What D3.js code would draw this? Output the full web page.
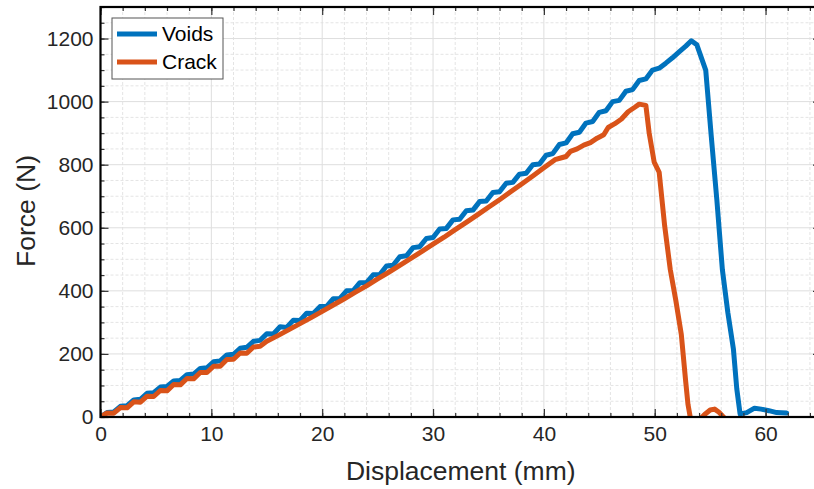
<!DOCTYPE html>
<meta charset="utf-8">
<style>
body { margin: 0; background: #fff; }
svg { font-family: "Liberation Sans", Arial, sans-serif; }
.tick text { fill: #262626; font-size: 21px; }
.grid-major line { stroke: #dedede; stroke-width: 1; }
.grid-minor line { stroke: #e4e4e4; stroke-width: 1; stroke-dasharray: 3,2; }
.series { fill: none; stroke-width: 5; stroke-linejoin: round; stroke-linecap: round; }
</style>
<body>
<div id="chart"></div>
<script src="https://cdn.jsdelivr.net/npm/d3@7"></script>
<script>

var voidsX = [0,0.6,1.2,1.8,2.4,3,3.6,4.2,4.8,5.4,6,6.6,7.2,7.8,8.4,9,9.6,10.2,10.8,11.4,12,12.6,13.2,13.8,14.4,
  15,15.6,16.2,16.8,17.4,18,18.6,19.2,19.8,20.4,21,21.6,22.2,22.8,23.4,24,24.6,25.2,25.8,26.4,27,27.6,28.2,28.8,29.4,
  30,30.6,31.2,31.8,32.4,33,33.6,34.2,34.8,35.4,36,36.6,37.2,37.8,38.4,39,39.6,40.2,40.8,41.4,42,42.6,43.2,43.8,44.4,
  45,45.6,46.2,46.8,47.4,48,48.6,49.2,49.8,
  50.4,51,51.6,52.2,52.8,53.3,53.8,54.6,55.1,55.6,56.1,56.6,57.1,57.4,57.7,58.3,59,59.6,60.3,61,61.9];
var voidsY = [0,14,16,34,36,54,56,75,77,95,97,114,116,134,136,154,156,175,178,197,199,218,221,240,243,
  264,263,286,284,307,306,329,328,350,351,375,376,400,401,426,426,451,452,479,481,508,511,537,540,566,
  569,596,598,625,627,654,656,683,685,712,714,741,744,770,773,800,802,830,835,864,869,898,903,932,937,
  966,971,1000,1004,1033,1038,1067,1072,1100,
  1106,1122,1139,1158,1176,1193,1180,1100,890,690,468,330,215,90,10,14,28,25,20,14,13];

var crackX = [0,0.6,1.2,1.8,2.4,3,3.6,4.2,4.8,5.4,6,6.6,7.2,7.8,8.4,9,9.6,10.2,10.8,11.4,12,12.6,13.2,13.8,14.4,15,
  16,17,18,19,20,21,22,23,24,25,26,27,28,29,30,31,32,33,34,35,36,37,38,39,40,41,
  41.6,42,42.4,43,43.6,44.2,44.8,45.4,45.8,46.4,47,47.6,48.2,48.6,49.2,49.5,49.95,50.4,50.9,51.4,
  51.9,52.4,52.8,53,53.2,53.6,54,54.5,55,55.4,55.8,56.2,56.6];
var crackY = [0,13,12,30,29,48,47,66,65,84,83,103,102,122,121,141,141,161,161,182,183,203,202,222,224,240,
  258,277,296,315,335,355,375,396,416,438,459,481,503,525,548,570,594,617,641,665,689,714,739,764,790,816,
  822,826,842,850,862,870,884,895,918,930,945,968,982,992,988,900,808,776,605,468,
  370,261,110,40,0,-15,-10,8,22,25,15,0,-15];

var seriesNames = ["Voids", "Crack"];
var seriesColors = ["#0072BD", "#D95319"];

var xMajor = [0,10,20,30,40,50,60];
var yMajor = [0,200,400,600,800,1000,1200];
var xMinor = d3.range(0, 65, 2);
var yMinor = d3.range(0, 1301, 50);

var width = 814, height = 489;
var margin = {left: 100.5, top: 7, right: -7, bottom: 72};
var w = width - margin.left - margin.right,
    h = height - margin.top - margin.bottom;

var x = d3.scaleLinear().domain([0, 65]).range([0, w]);
var y = d3.scaleLinear().domain([0, 1300]).range([h, 0]);

var svg = d3.select("#chart").append("svg")
    .attr("width", width)
    .attr("height", height)
  .append("g")
    .attr("transform", "translate(" + margin.left + "," + margin.top + ")");

// minor grid (dashed) then major grid
var gMinor = svg.append("g").attr("class", "grid-minor");
gMinor.selectAll(".vx").data(xMinor.filter(function(d) { return d % 10; }))
  .enter().append("line")
    .attr("x1", function(d) { return x(d); }).attr("x2", function(d) { return x(d); })
    .attr("y1", 0).attr("y2", h);
gMinor.selectAll(".hy").data(yMinor.filter(function(d) { return d % 200; }))
  .enter().append("line")
    .attr("y1", function(d) { return y(d); }).attr("y2", function(d) { return y(d); })
    .attr("x1", 0).attr("x2", w);

var gMajor = svg.append("g").attr("class", "grid-major");
gMajor.selectAll(".vx").data(xMajor)
  .enter().append("line")
    .attr("x1", function(d) { return x(d); }).attr("x2", function(d) { return x(d); })
    .attr("y1", 0).attr("y2", h);
gMajor.selectAll(".hy").data(yMajor)
  .enter().append("line")
    .attr("y1", function(d) { return y(d); }).attr("y2", function(d) { return y(d); })
    .attr("x1", 0).attr("x2", w);

svg.append("clipPath").attr("id", "clip")
  .append("rect").attr("width", w).attr("height", h);

var line = d3.line()
    .x(function(d) { return x(d[0]); })
    .y(function(d) { return y(d[1]); });

var series = [d3.zip(voidsX, voidsY), d3.zip(crackX, crackY)];

svg.append("g").attr("clip-path", "url(#clip)")
  .selectAll("path").data(series)
  .enter().append("path")
    .attr("class", "series")
    .attr("stroke", function(d, i) { return seriesColors[i]; })
    .attr("d", line);

// ticks on all four sides, pointing inward
function ticks(axis, vals, size, labels) {
  return axis.tickValues(vals).tickSize(size).tickSizeOuter(0).tickPadding(9)
    .tickFormat(labels ? d3.format("d") : "");
}
function styleAxis(g) {
  g.select(".domain").remove();
  g.selectAll(".tick line").attr("stroke", "#333").attr("stroke-width", 1.2);
}

svg.append("g").attr("transform", "translate(0," + h + ")")
  .call(ticks(d3.axisBottom(x), xMinor, -4, false)).call(styleAxis);
svg.append("g").attr("transform", "translate(0," + h + ")")
  .call(ticks(d3.axisBottom(x), xMajor, -8, true)).call(styleAxis);
svg.append("g").call(ticks(d3.axisTop(x), xMinor, -4, false)).call(styleAxis);
svg.append("g").call(ticks(d3.axisTop(x), xMajor, -8, false)).call(styleAxis);
svg.append("g").call(ticks(d3.axisLeft(y), yMinor, -4, false)).call(styleAxis);
svg.append("g").call(ticks(d3.axisLeft(y), yMajor, -8, true)).call(styleAxis)
  .selectAll(".tick text").attr("x", -7);
svg.append("g").attr("transform", "translate(" + w + ",0)")
  .call(ticks(d3.axisRight(y), yMinor, -4, false)).call(styleAxis);
svg.append("g").attr("transform", "translate(" + w + ",0)")
  .call(ticks(d3.axisRight(y), yMajor, -8, false)).call(styleAxis);

svg.append("rect")
    .attr("width", w).attr("height", h)
    .attr("fill", "none").attr("stroke", "#000").attr("stroke-width", 2.2);

// axis titles
svg.append("text")
    .attr("x", x(32.5)).attr("y", h + 63)
    .attr("text-anchor", "middle")
    .attr("fill", "#262626").style("font-size", "26.5px")
    .text("Displacement (mm)");
svg.append("text")
    .attr("transform", "translate(" + (-66) + "," + (211 - margin.top) + ") rotate(-90)")
    .attr("text-anchor", "middle")
    .attr("fill", "#262626").style("font-size", "26.5px")
    .text("Force (N)");

// legend
var lg = svg.append("g").attr("transform", "translate(" + (112 - margin.left) + "," + (18 - margin.top) + ")");
lg.append("rect")
    .attr("width", 111).attr("height", 61)
    .attr("fill", "#fff").attr("stroke", "#555").attr("stroke-width", 1);
seriesNames.forEach(function(name, i) {
  var yy = 16 + i * 28;
  lg.append("line")
      .attr("x1", 5).attr("x2", 45).attr("y1", yy).attr("y2", yy)
      .attr("stroke", seriesColors[i]).attr("stroke-width", 5);
  lg.append("text")
      .attr("x", 50).attr("y", yy).attr("dy", "0.35em")
      .attr("fill", "#000").style("font-size", "21px")
      .text(name);
});

</script>
</body>
</html>
